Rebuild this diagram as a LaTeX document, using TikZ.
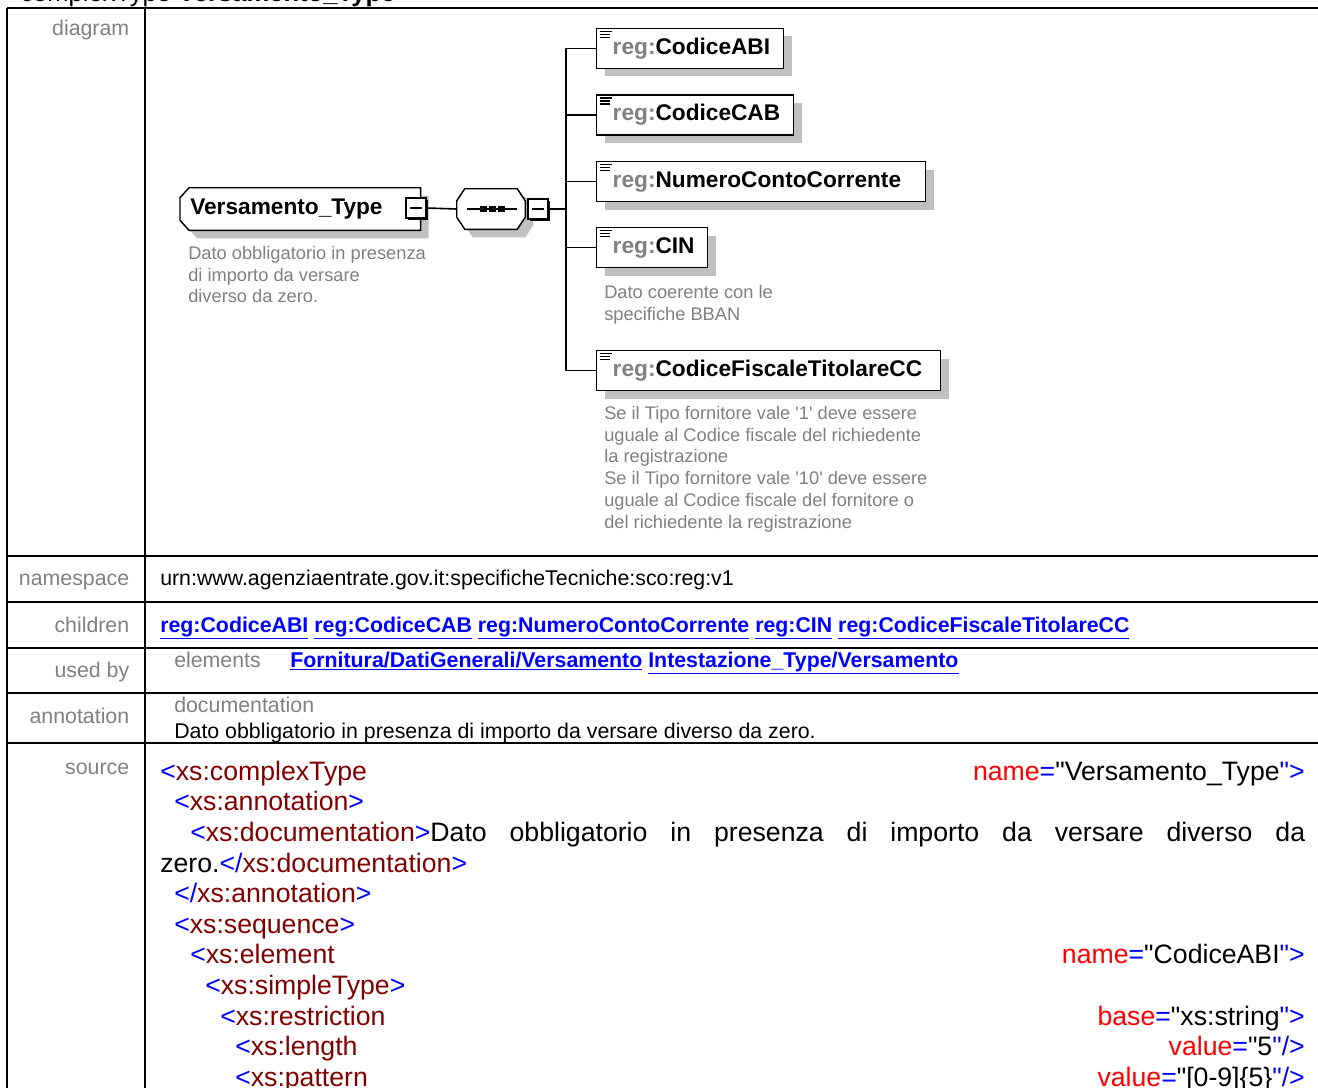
\documentclass[tikz,border=0pt]{standalone}
\usepackage{fontspec}
\setmainfont{Liberation Sans}
\usetikzlibrary{calc,positioning,backgrounds,shadows}
\definecolor{labgray}{RGB}{128,128,128}
\definecolor{shadegray}{RGB}{192,192,192}
\definecolor{linkblue}{RGB}{0,0,255}
\definecolor{tagred}{RGB}{128,0,0}
\definecolor{attred}{RGB}{255,0,0}
\newcommand{\xmlopen}[1]{\textcolor{linkblue}{<}\textcolor{tagred}{#1}}
\newcommand{\xmlend}[1]{\textcolor{linkblue}{</}\textcolor{tagred}{#1}\textcolor{linkblue}{>}}
\newcommand{\xmlattr}[3]{\textcolor{attred}{#1}\textcolor{linkblue}{=}\textquotedbl #2\textcolor{linkblue}{\textquotedbl #3}}

\begin{document}
\begin{tikzpicture}[
  x=0.75pt, y=-0.75pt,
  rule/.style={line width=1.5pt},
  rowlab/.style={anchor=base east, inner sep=0pt, text=labgray,
                 font=\fontsize{16}{19}\selectfont},
  cell/.style={anchor=base west, inner sep=0pt, font=\fontsize{16}{19}\selectfont},
  link/.style={cell, text=linkblue, font=\fontsize{16}{19}\selectfont\bfseries},
  src/.style={anchor=base west, inner sep=0pt, font=\fontsize{20}{23}\selectfont},
  srcr/.style={src, anchor=base east},
  boxline/.style={line width=1.1pt},
  conn/.style={line width=1.2pt},
  ctype/.style={anchor=west, minimum height=31.5pt, inner xsep=7.5pt, inner ysep=0pt,
                text width=165pt, align=left, font=\fontsize{17}{20}\selectfont\bfseries},
  seqbox/.style={minimum width=51pt, minimum height=30pt, inner sep=0pt},
  minus/.style={draw, line width=0.9pt, fill=white, minimum size=15pt, inner sep=0pt,
                drop shadow={shadow xshift=1.5pt, shadow yshift=-1.5pt, opacity=1, fill=black},
                path picture={\draw[line width=0.9pt]
                  ([xshift=3pt]path picture bounding box.west) --
                  ([xshift=-3pt]path picture bounding box.east);}},
  elem/.style={draw, boxline, fill=white, anchor=west, inner xsep=12pt, inner ysep=0pt,
               minimum height=30pt, align=left, font=\fontsize{17}{20}\selectfont\bfseries,
               drop shadow={shadow xshift=6pt, shadow yshift=-6pt, opacity=1, fill=shadegray},
               path picture={\foreach \k/\l in {2.2pt/9pt,4.5pt/7.5pt,6.8pt/7.5pt}
                 \draw[line width=0.9pt] ([xshift=2.2pt,yshift=-\k]path picture bounding box.north west)
                   -- ++(\l,0);}},
  doc/.style={anchor=north west, align=left, inner sep=0pt, text=labgray,
              font=\fontsize{13.7}{16.3}\selectfont},
]
\useasboundingbox (0,0) rectangle (1318,1088);
\clip (0,0) rectangle (1318,1088);

% title, cut by the page edge
\node[anchor=base west, inner sep=0pt, font=\fontsize{19.2}{22}\selectfont] (title) at (20,1.5)
  {complexType \textbf{Versamento\_Type}};

% table
\draw[rule] (7,8) -- (1318,8);
\foreach \y in {556,602,647.5,693,742.5}
  \draw[rule] (7,\y) -- (1318,\y);
\draw[rule] (7,8) -- (7,1088);
\draw[rule] (145,8) -- (145,1088);

\node[rowlab] (ldiag) at (129.5,36) {diagram};
\node[rowlab] (lns) at (129.5,585) {namespace};
\node[rowlab] (lkids) at (129.5,632) {children};
\node[rowlab] (lused) at (129.5,677) {used by};
\node[rowlab] (lann) at (129.5,723) {annotation};
\node[rowlab] (lsrc) at (129.5,774) {source};

% diagram
\node[ctype] (vt) at (180,209) {Versamento\_Type};
\node[minus] (vm) at (416,208) {};
\node[seqbox] (sq) at (491,209) {};
\node[minus] (sm) at (538,209) {};
\coordinate (bus) at (566,209);

\begin{scope}[on background layer]
  \fill[shadegray] ($(vt.north west)+(17,8)$) -- ($(vt.north east)+(8,8)$)
    -- ($(vt.south east)+(8,8)$) -- ($(vt.south west)+(17,8)$)
    -- ($(vt.south west)+(8,-2)$) -- ($(vt.north west)+(8,18)$) -- cycle;
  \draw[boxline, fill=white] ($(vt.north west)+(9,0)$) -- (vt.north east)
    -- (vt.south east) -- ($(vt.south west)+(9,0)$)
    -- ($(vt.south west)+(0,-10)$) -- ($(vt.north west)+(0,10)$) -- cycle;
  \fill[shadegray] ($(sq.north west)+(16,8)$) -- ($(sq.north east)+(0,8)$)
    -- ($(sq.north east)+(8,20)$) -- ($(sq.south east)+(8,-4)$)
    -- ($(sq.south east)+(0,8)$) -- ($(sq.south west)+(16,8)$)
    -- ($(sq.south west)+(8,-4)$) -- ($(sq.north west)+(8,20)$) -- cycle;
  \draw[boxline, fill=white] ($(sq.north west)+(8,0)$) -- ($(sq.north east)+(-8,0)$)
    -- ($(sq.north east)+(0,12)$) -- ($(sq.south east)+(0,-12)$)
    -- ($(sq.south east)+(-8,0)$) -- ($(sq.south west)+(8,0)$)
    -- ($(sq.south west)+(0,-12)$) -- ($(sq.north west)+(0,12)$) -- cycle;
\end{scope}

\draw[line width=1pt] ($(sq.west)+(10,0)$) -- ($(sq.east)+(-8,0)$);
\foreach \x in {-8,1,10}
  \fill ($(sq.center)+(\x-3.5,-3)$) rectangle ++(7,6);

\node[elem, text width=116.25pt] (abi) at (596,48.5) {\textcolor{labgray}{reg:}CodiceABI};
\node[elem, text width=123.75pt] (cab) at (596,115) {\textcolor{labgray}{reg:}CodiceCAB};
\node[elem, text width=222.75pt] (ncc) at (596,181.5) {\textcolor{labgray}{reg:}NumeroContoCorrente};
\node[elem, text width=59.25pt] (cin) at (596,247.5) {\textcolor{labgray}{reg:}CIN};
\node[elem, text width=234pt] (cf) at (596,370.5) {\textcolor{labgray}{reg:}CodiceFiscaleTitolareCC};

\draw[conn] (vm.east) -- (sq.west);
\draw[conn] (sm.east) -- (bus);
\foreach \c in {abi,cab,ncc,cin,cf}
  \draw[conn] (bus) |- (\c.west);

\node[doc] (vtdoc) at (188,246) {Dato obbligatorio in presenza\\di importo da versare\\diverso da zero.};
\node[doc] (cindoc) at (604,285) {Dato coerente con le\\specifiche BBAN};
\node[doc] (cfdoc) at (604,406) {Se il Tipo fornitore vale \textquotesingle 1\textquotesingle\ deve essere\\
  uguale al Codice fiscale del richiedente\\la registrazione\\
  Se il Tipo fornitore vale \textquotesingle 10\textquotesingle\ deve essere\\
  uguale al Codice fiscale del fornitore o\\del richiedente la registrazione};

% rows
\node[cell] (ns) at (160,585) {urn:www.agenziaentrate.gov.it:specificheTecniche:sco:reg:v1};
\node[link] (kids) at (160,632) {\underline{reg:CodiceABI} \underline{reg:CodiceCAB}
  \underline{reg:NumeroContoCorrente} \underline{reg:CIN} \underline{reg:CodiceFiscaleTitolareCC}};
\node[cell, text=labgray] (elems) at (174,667) {elements};
\node[link] (users) at (290,667) {\underline{Fornitura/DatiGenerali/Versamento}
  \underline{Intestazione\_Type/Versamento}};
\node[cell, text=labgray] (docl) at (174,712) {documentation};
\node[cell] (doctxt) at (174,738.5) {Dato obbligatorio in presenza di importo da versare diverso da zero.};

% source
\node[src] (s1) at (160,780) {\xmlopen{xs:complexType}};
\node[srcr] (s1r) at (1305,780) {\xmlattr{name}{Versamento\_Type}{>}};
\node[src] (s2) at (174,810.7) {\xmlopen{xs:annotation}\textcolor{linkblue}{>}};
\node[src] (s3) at (190,841.3) {\makebox[836.25pt][s]{\xmlopen{xs:documentation}\textcolor{linkblue}{>}Dato obbligatorio in presenza di importo da versare diverso da}};
\node[src] (s4) at (160,872) {zero.\xmlend{xs:documentation}};
\node[src] (s5) at (174,902.6) {\xmlend{xs:annotation}};
\node[src] (s6) at (174,933.3) {\xmlopen{xs:sequence}\textcolor{linkblue}{>}};
\node[src] (s7) at (190,963.9) {\xmlopen{xs:element}};
\node[srcr] (s7r) at (1305,963.9) {\xmlattr{name}{CodiceABI}{>}};
\node[src] (s8) at (205,994.6) {\xmlopen{xs:simpleType}\textcolor{linkblue}{>}};
\node[src] (s9) at (220,1025.2) {\xmlopen{xs:restriction}};
\node[srcr] (s9r) at (1305,1025.2) {\xmlattr{base}{xs:string}{>}};
\node[src] (s10) at (235,1055.9) {\xmlopen{xs:length}};
\node[srcr] (s10r) at (1305,1055.9) {\xmlattr{value}{5}{/>}};
\node[src] (s11) at (235,1086.5) {\xmlopen{xs:pattern}};
\node[srcr] (s11r) at (1305,1086.5) {\xmlattr{value}{[0-9]\{5\}}{/>}};
\end{tikzpicture}
\end{document}
